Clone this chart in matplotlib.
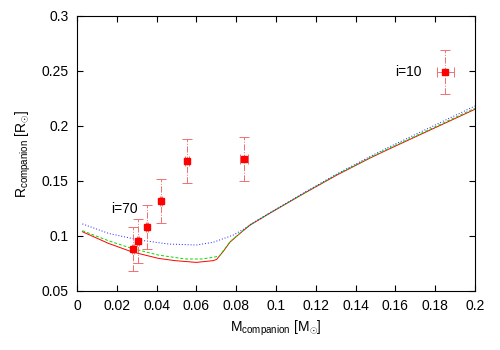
import matplotlib
matplotlib.use('Agg')
import matplotlib.pyplot as plt

plt.rcParams['font.family'] = ['Liberation Sans', 'DejaVu Sans']
plt.rcParams['mathtext.fontset'] = 'custom'
plt.rcParams['mathtext.rm'] = 'Liberation Sans'
plt.rcParams['mathtext.it'] = 'Liberation Sans'

# model curves
red_x = [0.0027, 0.0158, 0.0274, 0.0408, 0.0492, 0.060, 0.0685, 0.0702, 0.0735, 0.0769,
         0.0819, 0.0869, 0.097, 0.107, 0.1137, 0.1305, 0.1472, 0.1565, 0.20]
red_y = [0.1039, 0.0933, 0.0857, 0.0797, 0.0776, 0.0760, 0.0776, 0.0788, 0.0860, 0.0945,
         0.1024, 0.1098, 0.1208, 0.1313, 0.1383, 0.1553, 0.1708, 0.1788, 0.2152]

green_x = [0.0027, 0.0158, 0.0274, 0.0408, 0.0543, 0.0626, 0.0685, 0.0715, 0.0735, 0.0769,
           0.0819, 0.0869, 0.097, 0.107, 0.1137, 0.1305, 0.1472, 0.1565, 0.20]
green_y = [0.1048, 0.0957, 0.0888, 0.0827, 0.0791, 0.0791, 0.0806, 0.0818, 0.0865, 0.0948,
           0.1026, 0.1100, 0.1210, 0.1315, 0.1386, 0.1557, 0.1713, 0.1794, 0.2162]

blue_x = [0.0027, 0.0158, 0.031, 0.046, 0.060, 0.0685, 0.0786, 0.0853, 0.0869,
          0.097, 0.107, 0.1137, 0.1305, 0.1472, 0.1565, 0.20]
blue_y = [0.1110, 0.1024, 0.0964, 0.0927, 0.0918, 0.0943, 0.1009, 0.1079, 0.1103,
          0.1212, 0.1318, 0.1390, 0.1563, 0.1722, 0.1806, 0.2182]

# measured companion points
obs_m = [0.0281, 0.0308, 0.0353, 0.0424, 0.0555, 0.0841, 0.185]
obs_r = [0.088, 0.0955, 0.108, 0.132, 0.168, 0.170, 0.2495]
obs_merr = [0.0005, 0.0005, 0.0005, 0.0005, 0.001, 0.002, 0.0042]
obs_rerr = [0.02, 0.02, 0.02, 0.02, 0.02, 0.02, 0.02]

fig = plt.figure(figsize=(5, 3.5), dpi=100)
ax = fig.add_axes([0.154, 0.1686, 0.796, 0.7857])

ax.plot(red_x, red_y, color='#ff0000', lw=0.7, linestyle='-')
ax.plot(green_x, green_y, color='#00dd00', lw=0.7, linestyle=(0, (3, 2)))
ax.plot(blue_x, blue_y, color='#2020ff', lw=0.7, linestyle=(0, (1, 2)))

eb = ax.errorbar(obs_m, obs_r, xerr=obs_merr, yerr=obs_rerr, fmt='s', color='#ff0000',
                 ms=4, ecolor='#f07070', elinewidth=0.7, capsize=3.5, capthick=0.7)
for lc in eb[2]:
    lc.set_linestyle('-.')

ax.text(0.0236, 0.1245, 'i=70', ha='center', va='center', fontsize=10)
ax.text(0.1663, 0.2494, 'i=10', ha='center', va='center', fontsize=10)

ax.set_xlim(0, 0.2)
ax.set_ylim(0.05, 0.3)
ax.set_xticks([0, 0.02, 0.04, 0.06, 0.08, 0.1, 0.12, 0.14, 0.16, 0.18, 0.2])
ax.set_xticklabels(['0', '0.02', '0.04', '0.06', '0.08', '0.1', '0.12', '0.14', '0.16', '0.18', '0.2'])
ax.set_yticks([0.05, 0.1, 0.15, 0.2, 0.25, 0.3])
ax.set_yticklabels(['0.05', '0.1', '0.15', '0.2', '0.25', '0.3'])
ax.tick_params(direction='in', top=True, right=True, length=4, width=0.8, labelsize=10, pad=6)

ax.set_xlabel(r'M$_{\mathrm{companion}}$ [M$_{\odot}$]', fontsize=10, labelpad=4)
ax.set_ylabel(r'R$_{\mathrm{companion}}$ [R$_{\odot}$]', fontsize=10, labelpad=6)

fig.savefig('out.png', dpi=100)
